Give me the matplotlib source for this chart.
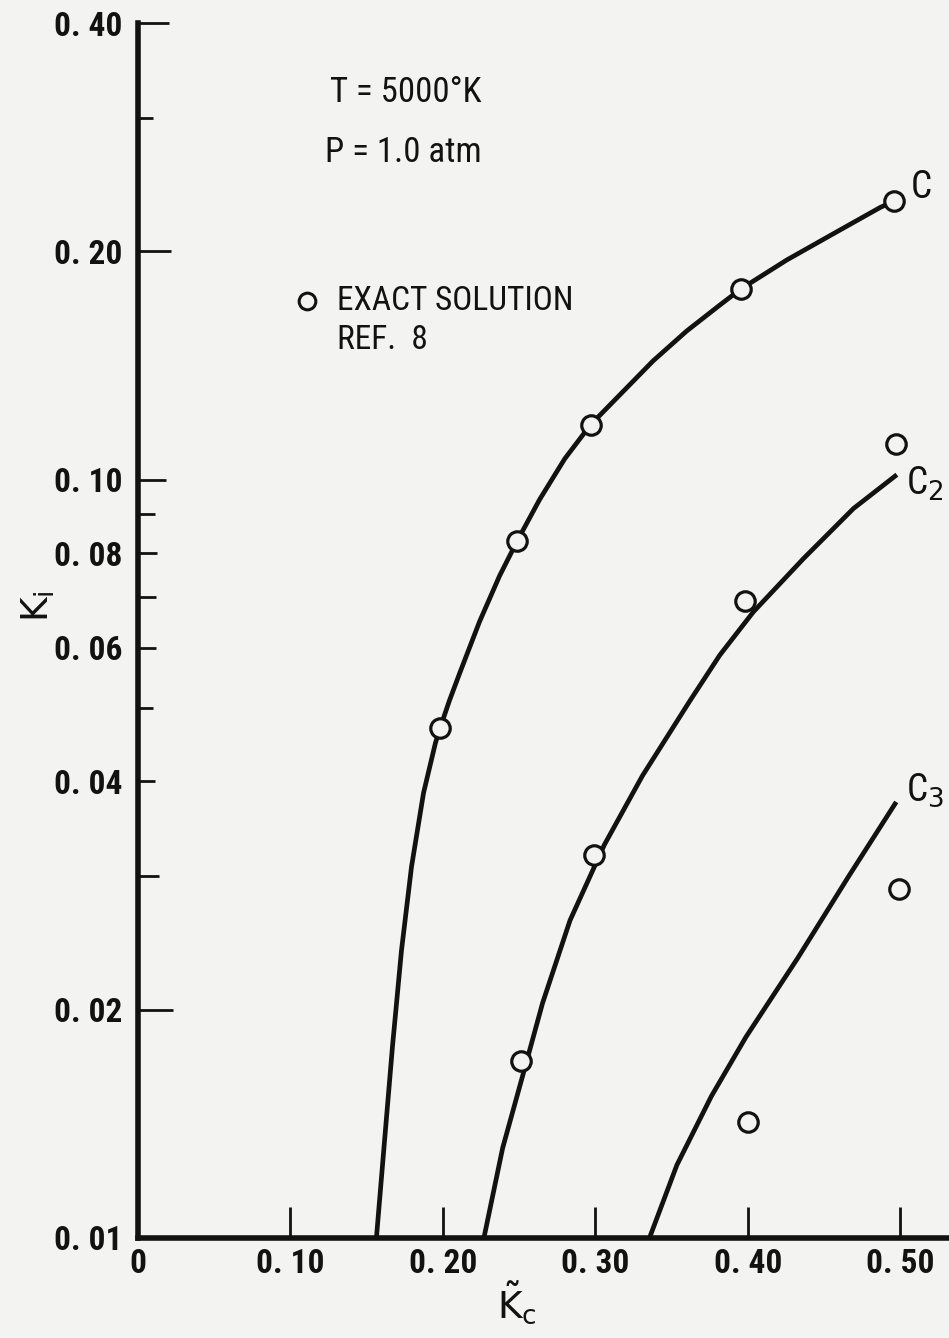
import matplotlib
matplotlib.use('Agg')
import matplotlib.pyplot as plt
from matplotlib.lines import Line2D
from matplotlib.transforms import ScaledTranslation
from matplotlib.ticker import FixedLocator, NullFormatter

# ---------------- data ----------------
# curve C (approximate solution, line) and exact-solution circles
c_line_x = [0.1564, 0.1616, 0.1669, 0.1728, 0.1794, 0.1873, 0.1951, 0.1984,
            0.2043, 0.2109, 0.2240, 0.2372, 0.2488, 0.2635, 0.2799, 0.2970,
            0.3160, 0.3379, 0.3599, 0.3817, 0.3955, 0.4256, 0.4584, 0.4869, 0.4956]
c_line_y = [0.0100, 0.01334, 0.01786, 0.02390, 0.03085, 0.03862, 0.04494, 0.04719,
            0.05113, 0.05548, 0.06494, 0.07467, 0.08305, 0.09417, 0.1065, 0.1182,
            0.1293, 0.1434, 0.1570, 0.1699, 0.1784, 0.1948, 0.2122, 0.2285, 0.2327]
c_pts_x = [0.1984, 0.2488, 0.2970, 0.3955, 0.4956]
c_pts_y = [0.04704, 0.08305, 0.1182, 0.1784, 0.2327]

# curve C2
c2_line_x = [0.2269, 0.2392, 0.2530, 0.2654, 0.2834, 0.3060, 0.3309, 0.3620,
             0.3817, 0.4036, 0.4365, 0.4693, 0.4978]
c2_line_y = [0.0100, 0.01314, 0.01655, 0.02041, 0.02623, 0.03302, 0.04069, 0.05107,
             0.05871, 0.06690, 0.07866, 0.09158, 0.1015]
c2_pts_x = [0.2510, 0.2993, 0.3982, 0.4974]
c2_pts_y = [0.01709, 0.03199, 0.06909, 0.1113]

# curve C3
c3_line_x = [0.3355, 0.3535, 0.3762, 0.3988, 0.4328, 0.4663, 0.4974]
c3_line_y = [0.0100, 0.01248, 0.01539, 0.01841, 0.02340, 0.03001, 0.03758]
c3_pts_x = [0.3999, 0.4993]
c3_pts_y = [0.01423, 0.02886]

x_ticks = [0.10, 0.20, 0.30, 0.40, 0.50]
x_labels = ['0. 10', '0. 20', '0. 30', '0. 40', '0. 50']
y_ticks = [0.01, 0.02, 0.04, 0.06, 0.08, 0.10, 0.20, 0.40]
y_labels = ['0. 01', '0. 02', '0. 04', '0. 06', '0. 08', '0. 10', '0. 20', '0. 40']
y_minor = [0.03, 0.05, 0.07, 0.09, 0.30]

# ---------------- figure ----------------
W, H = 949, 1338
INK = '#121212'
BG = '#f3f3f1'
FONT = ['Roboto Condensed', 'DejaVu Sans']

fig = plt.figure(figsize=(W / 100, H / 100), dpi=100)
fig.patch.set_facecolor(BG)
ax = fig.add_axes([138 / W, (H - 1238) / H, (W - 138) / W, (1238 - 23) / H])
ax.set_facecolor(BG)
ax.set_yscale('log')
ax.set_xlim(0, 0.532)
ax.set_ylim(0.01, 0.40)

for s in ['top', 'right']:
    ax.spines[s].set_visible(False)
for s in ['left', 'bottom']:
    ax.spines[s].set_linewidth(4.0)
    ax.spines[s].set_color(INK)
    ax.spines[s].set_capstyle('projecting')

lw = 3.4
ms = 14
mew = 2.3
for lx, ly in [(c_line_x, c_line_y), (c2_line_x, c2_line_y), (c3_line_x, c3_line_y)]:
    ax.plot(lx, ly, color=INK, lw=lw, solid_capstyle='butt', solid_joinstyle='round',
            zorder=3, clip_on=False)
for px, py in [(c_pts_x, c_pts_y), (c2_pts_x, c2_pts_y), (c3_pts_x, c3_pts_y)]:
    ax.plot(px, py, ls='none', marker='o', ms=ms, mfc=BG, mec=INK, mew=mew,
            zorder=4, clip_on=False)

# ticks
ax.xaxis.set_major_locator(FixedLocator(x_ticks))
ax.set_xticklabels(x_labels)
ax.yaxis.set_major_locator(FixedLocator(y_ticks))
ax.set_yticklabels(y_labels)
ax.yaxis.set_minor_locator(FixedLocator(y_minor))
ax.yaxis.set_minor_formatter(NullFormatter())
ax.xaxis.set_minor_locator(FixedLocator([]))

ax.tick_params(axis='x', which='major', direction='in', length=22, width=2.0,
               color=INK, pad=7, labelsize=24)
ax.tick_params(axis='y', which='major', direction='in', length=13, width=2.0,
               color=INK, pad=11, labelsize=24)
ax.tick_params(axis='y', which='minor', direction='in', length=11, width=2.0,
               color=INK)
# individual y tick lengths as drawn in the reference
ylen = {0.01: 0, 0.02: 25, 0.04: 12, 0.06: 13, 0.08: 14, 0.10: 20, 0.20: 24, 0.40: 22}
for t, v in zip(ax.yaxis.get_major_ticks(), y_ticks):
    t.tick1line.set_markersize(ylen[v])
ymlen = {0.03: 15, 0.05: 11, 0.07: 13, 0.09: 12, 0.30: 11}
for t, v in zip(ax.yaxis.get_minor_ticks(), y_minor):
    t.tick1line.set_markersize(ymlen[v])
for lab in ax.get_xticklabels() + ax.get_yticklabels():
    lab.set_family(FONT)
    lab.set_fontweight('bold')
    lab.set_color(INK)

# "0" at origin, below the x axis
ax.text(0, 0.01, '0', ha='center', va='top', fontsize=24, fontweight='bold',
        family=FONT, color=INK,
        transform=ax.transData + ScaledTranslation(0, -7 / 72, fig.dpi_scale_trans))

# axis labels
fig.text(38 / W, 1 - 606 / H, r'$\mathsf{K}_{\mathsf{i}}$', rotation=90, ha='center', va='center',
         fontsize=27, color=INK)
fig.text(517 / W, 1 - 1303 / H, r'$\tilde{\mathsf{K}}_{\mathsf{c}}$', ha='center', va='center',
         fontsize=27, color=INK)

# annotations
kw = dict(family=FONT, color=INK, fontsize=25, va='center', ha='left')
fig.text(330 / W, 1 - 92 / H, 'T = 5000°K', **kw)
fig.text(325 / W, 1 - 152 / H, 'P = 1.0 atm', **kw)
fig.text(337 / W, 1 - 301 / H, 'EXACT SOLUTION', **{**kw, 'fontsize': 24})
fig.text(337 / W, 1 - 340 / H, 'REF.  8', **{**kw, 'fontsize': 24})
fig.add_artist(Line2D([307 / W], [1 - 301 / H], marker='o', ms=12,
                      mfc='none', mec=INK, mew=2.2, transform=fig.transFigure))

# curve labels
fig.text(911 / W, 1 - 188 / H, 'C', **{**kw, 'fontsize': 27})
fig.text(906 / W, 1 - 484 / H, r'C$_{2}$', **{**kw, 'fontsize': 27})
fig.text(906 / W, 1 - 790 / H, r'C$_{3}$', **{**kw, 'fontsize': 27})

fig.savefig('out.png', dpi=100, facecolor=BG)
